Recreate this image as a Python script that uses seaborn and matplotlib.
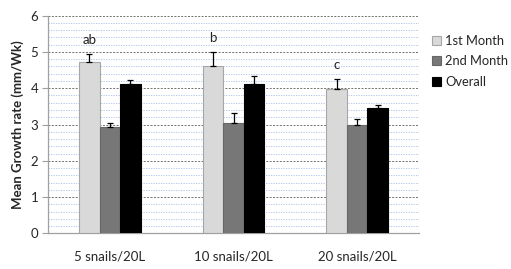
import numpy as np
import pandas as pd
import matplotlib
matplotlib.use("Agg")
import matplotlib.pyplot as plt
import seaborn as sns
from matplotlib.ticker import MultipleLocator

categories = ["5 snails/20L", "10 snails/20L", "20 snails/20L"]
series = ["1st Month", "2nd Month", "Overall"]
month1 = [4.72, 4.62, 3.98]
month2 = [2.93, 3.05, 3.00]
overall = [4.11, 4.11, 3.45]
err1 = [0.22, 0.39, 0.28]
err2 = [0.11, 0.27, 0.16]
err3 = [0.13, 0.22, 0.08]
letters = ["ab", "b", "c"]

sns.set_style("white")
plt.rcParams['font.family'] = ['Lato', 'DejaVu Sans']

rows = []
for s, vals, errs in zip(series, [month1, month2, overall], [err1, err2, err3]):
    for c, v, e in zip(categories, vals, errs):
        rows.append({"cat": c, "series": s, "value": v, "err": e})
df = pd.DataFrame(rows)

colors = ["#d9d9d9", "#777777", "#000000"]
edges = ["#a6a6a6", "#666666", "#000000"]

fig = plt.figure(figsize=(5.11, 2.69), dpi=100)
ax = fig.add_axes([0.094, 0.132, 0.726, 0.810])

sns.barplot(data=df, x="cat", y="value", hue="series", order=categories,
            hue_order=series, palette=colors, width=0.5, errorbar=None,
            ax=ax, zorder=3, legend=True)

# edges and error bars
for i, s in enumerate(series):
    cont = ax.containers[i]
    sub = df[df.series == s].set_index("cat").loc[categories]
    for p, (v, e) in zip(cont.patches, zip(sub.value, sub.err)):
        p.set_edgecolor(edges[i])
        p.set_linewidth(0.8)
        xc = p.get_x() + p.get_width() / 2
        ax.errorbar([xc], [v], yerr=[[0], [e]], fmt="none", ecolor="black",
                    elinewidth=0.9, capsize=2.5, capthick=0.9, zorder=4)

# letters over first-month bars
cont = ax.containers[0]
for p, lab, v, e in zip(cont.patches, letters, month1, err1):
    xc = p.get_x() + p.get_width() / 2
    ax.text(xc, v + e + 0.22, lab, ha="center", va="bottom", fontsize=9.5,
            color="#222222")

ax.set_ylim(0, 6)
ax.set_xlim(-0.5, 2.5)
ax.yaxis.set_major_locator(MultipleLocator(1))
ax.yaxis.set_minor_locator(MultipleLocator(0.2))
ax.grid(which="minor", axis="y", color="#a9c0e8", linestyle=(0, (1.5, 1.5)),
        linewidth=0.6, zorder=0)
ax.grid(which="major", axis="y", color="#707070", linestyle=(0, (2, 1.5)),
        linewidth=0.7, zorder=1)
ax.set_axisbelow(True)

for side in ["top", "right"]:
    ax.spines[side].set_visible(False)
for side in ["left", "bottom"]:
    ax.spines[side].set_color("#a0a0a0")
    ax.spines[side].set_linewidth(0.9)

ax.tick_params(axis="y", which="major", length=4, color="#a0a0a0",
               labelsize=9.5, pad=3, left=True)
ax.tick_params(axis="y", which="minor", length=0)
ax.tick_params(axis="x", length=0, labelsize=9.5, pad=12)
ax.set_xlabel("")
ax.set_ylabel("Mean Growth rate (mm/Wk)", fontsize=9.5, fontweight="bold",
              labelpad=5)

leg = ax.legend(title=None, frameon=False, loc="upper left",
                bbox_to_anchor=(1.035, 0.912), fontsize=9.3, handlelength=0.7,
                handleheight=0.7, handletextpad=0.3, labelspacing=0.65,
                borderaxespad=0, borderpad=0)
for h, ec in zip(leg.legend_handles, edges):
    h.set_edgecolor(ec)
    h.set_linewidth(0.8)

fig.savefig("out.png", dpi=100)
